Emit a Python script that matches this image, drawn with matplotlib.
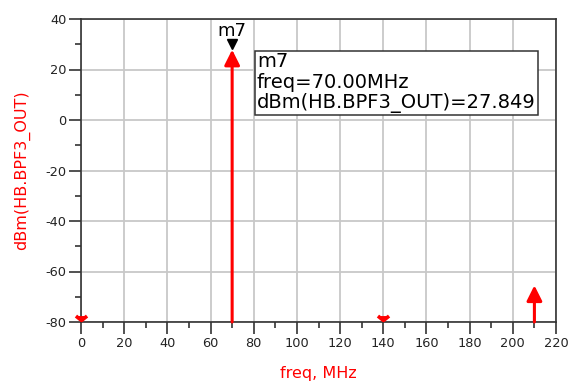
import matplotlib
matplotlib.use("Agg")
import matplotlib.pyplot as plt
from matplotlib.path import Path
from matplotlib.ticker import MultipleLocator

plt.rcParams['font.family'] = ['DejaVu Sans']
plt.rcParams['axes.unicode_minus'] = False

# data
freq_mhz = [0, 70, 140, 210]
power_dbm = [-120.0, 27.849, -120.0, -65.5]   # values below -80 are off-scale
marker_name = "m7"
marker_freq = 70
marker_value = 27.849
xlabel = "freq, MHz"
ylabel = "dBm(HB.BPF3_OUT)"

XMIN, XMAX, YMIN, YMAX = 0, 220, -80, 40

fig = plt.figure(figsize=(5.68, 3.83), dpi=100)
ax = fig.add_axes([81/568, 61/383, 475/568, 303/383])
ax.set_xlim(XMIN, XMAX)
ax.set_ylim(YMIN, YMAX)

ax.xaxis.set_major_locator(MultipleLocator(20))
ax.xaxis.set_minor_locator(MultipleLocator(10))
ax.yaxis.set_major_locator(MultipleLocator(20))
ax.yaxis.set_minor_locator(MultipleLocator(10))
ax.grid(True, which='major', color='#c8c8c8', lw=1.3)
ax.set_axisbelow(True)
ax.tick_params(which='major', length=8.5, width=1.1, color='#222222',
               labelsize=9.3, labelcolor='#222222', pad=2)
ax.tick_params(which='minor', length=4.5, width=1.1, color='#222222')
for s in ax.spines.values():
    s.set_color('#333333')
    s.set_linewidth(1.2)

chev = Path([(-1, 0.8), (0, 0), (1, 0.8)], [Path.MOVETO, Path.LINETO, Path.LINETO])
for f, p in zip(freq_mhz, power_dbm):
    if p < YMIN:
        ax.plot([f], [YMIN + 0.8], marker=chev, ms=8, mew=2.6, color='red',
                ls='none', clip_on=False, zorder=5)
    else:
        ax.annotate('', xy=(f, p), xytext=(f, YMIN),
                    arrowprops=dict(arrowstyle='-|>', color='red', lw=2.2,
                                    mutation_scale=23, shrinkA=0, shrinkB=0),
                    zorder=4)

# marker
ax.plot([marker_freq], [marker_value + 2.3], marker='v', ms=7, color='black',
        ls='none', zorder=6)
ax.text(marker_freq, marker_value + 3.8, marker_name, ha='center', va='bottom',
        fontsize=13, color='black')

# marker readout box
ax.text(81.5, 26.8,
        f"{marker_name}\nfreq={marker_freq:.2f}MHz\n{ylabel}={marker_value:.3f}",
        ha='left', va='top', fontsize=14, linespacing=1.1, color='black',
        bbox=dict(boxstyle='square,pad=0.1', fc='white', ec='#333333', lw=1.1),
        zorder=7)

ax.set_xlabel(xlabel, color='red', fontsize=11.5, labelpad=12)
ax.set_ylabel(ylabel, color='red', fontsize=11.5, labelpad=11)

fig.savefig('out.png', dpi=100)
